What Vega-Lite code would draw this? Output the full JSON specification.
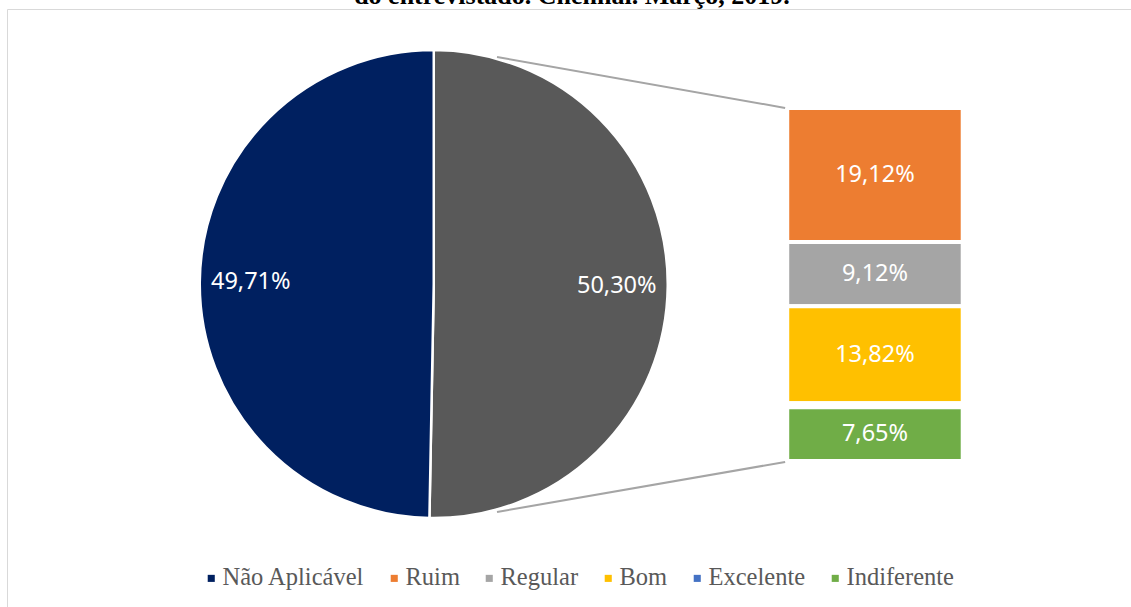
{
  "$schema": "https://vega.github.io/schema/vega-lite/v6.json",
  "width": 1124,
  "height": 598,
  "autosize": {"type": "none"},
  "padding": {"left": 7, "top": 9, "right": 0, "bottom": 0},
  "background": "white",
  "config": {"view": {"stroke": "#D9D9D9", "strokeWidth": 1}},
  "title": {
    "text": "do entrevistado. Chennai. Março, 2019.",
    "font": "Liberation Serif",
    "fontSize": 26,
    "fontWeight": "bold",
    "color": "black",
    "anchor": "middle",
    "offset": -21,
    "baseline": "alphabetic",
    "dx": 3
  },
  "datasets": {
    "pizza": [
      {"categoria": "Outros", "valor": 50.30, "ordem": 1},
      {"categoria": "Não Aplicável", "valor": 49.71, "ordem": 2}
    ],
    "barras": [
      {"categoria": "Ruim", "valor": 19.12, "ordem": 1},
      {"categoria": "Regular", "valor": 9.12, "ordem": 2},
      {"categoria": "Bom", "valor": 13.82, "ordem": 3},
      {"categoria": "Excelente", "valor": 0.59, "ordem": 4},
      {"categoria": "Indiferente", "valor": 7.65, "ordem": 5}
    ],
    "conectores": [
      {"linha": "superior", "x_ini": 9.26, "y_ini": 57.55, "x_fim": 50.3, "y_fim": 50.3},
      {"linha": "inferior", "x_ini": 9.26, "y_ini": -7.26, "x_fim": 50.3, "y_fim": -0.14}
    ]
  },
  "layer": [
    {
      "data": {"name": "pizza"},
      "mark": {"type": "arc", "radius": 234, "stroke": "white", "strokeWidth": 2.5},
      "encoding": {
        "theta": {"field": "valor", "type": "quantitative", "stack": true},
        "order": {"field": "ordem", "type": "quantitative"},
        "x": {"datum": 0.25, "type": "quantitative", "scale": {"domain": [-60.54, 99.57], "zero": false, "nice": false}, "axis": null},
        "y": {"datum": 25.2, "type": "quantitative", "scale": {"domain": [-20.80, 64.39], "zero": false, "nice": false}, "axis": null},
        "color": {
          "condition": {"test": "datum.categoria === 'Outros'", "value": "#595959"},
          "field": "categoria",
          "type": "nominal",
          "scale": {
            "domain": ["Não Aplicável", "Ruim", "Regular", "Bom", "Excelente", "Indiferente"],
            "range": ["#002060", "#ED7D31", "#A5A5A5", "#FFC000", "#4472C4", "#70AD47"]
          },
          "legend": {
            "orient": "none",
            "legendX": 192,
            "legendY": 557,
            "direction": "horizontal",
            "columns": 6,
            "title": null,
            "symbolType": "square",
            "symbolSize": 50,
            "symbolStrokeWidth": 0,
            "labelFont": "Liberation Serif",
            "labelFontSize": 24.5,
            "labelColor": "#595959",
            "labelOffset": -1,
            "columnPadding": 17
          }
        }
      }
    },
    {
      "data": {"name": "pizza"},
      "mark": {"type": "text", "radius": 183, "color": "white", "font": "Noto Sans", "fontSize": 23.5, "align": "center", "baseline": "middle"},
      "encoding": {
        "theta": {"field": "valor", "type": "quantitative", "stack": true},
        "order": {"field": "ordem", "type": "quantitative"},
        "x": {"datum": 0.25, "type": "quantitative"},
        "y": {"datum": 25.2, "type": "quantitative"},
        "text": {"value": {"expr": "replace(format(datum.valor, '.2f'), '.', ',') + '%'"}}
      }
    },
    {
      "data": {"name": "barras"},
      "transform": [
        {"stack": "valor", "groupby": [], "sort": [{"field": "ordem", "order": "descending"}], "as": ["y0", "y1"]}
      ],
      "mark": {"type": "bar", "stroke": "white", "strokeWidth": 4},
      "encoding": {
        "x": {"datum": 50.6, "type": "quantitative"},
        "x2": {"datum": 75.6},
        "y": {"field": "y0", "type": "quantitative"},
        "y2": {"field": "y1"},
        "color": {"field": "categoria", "type": "nominal"}
      }
    },
    {
      "data": {"name": "barras"},
      "transform": [
        {"stack": "valor", "groupby": [], "sort": [{"field": "ordem", "order": "descending"}], "as": ["y0", "y1"]},
        {"filter": "datum.categoria !== 'Excelente'"},
        {"calculate": "(datum.y0 + datum.y1) / 2", "as": "ymeio"},
        {"calculate": "replace(format(datum.valor, '.2f'), '.', ',') + '%'", "as": "rotulo"}
      ],
      "mark": {"type": "text", "color": "white", "font": "Noto Sans", "fontSize": 23.5, "align": "center", "baseline": "middle"},
      "encoding": {
        "x": {"datum": 63.1, "type": "quantitative"},
        "y": {"field": "ymeio", "type": "quantitative"},
        "text": {"field": "rotulo"}
      }
    },
    {
      "data": {"name": "conectores"},
      "mark": {"type": "rule", "color": "#A5A5A5", "strokeWidth": 2},
      "encoding": {
        "x": {"field": "x_ini", "type": "quantitative"},
        "y": {"field": "y_ini", "type": "quantitative"},
        "x2": {"field": "x_fim"},
        "y2": {"field": "y_fim"}
      }
    }
  ]
}
